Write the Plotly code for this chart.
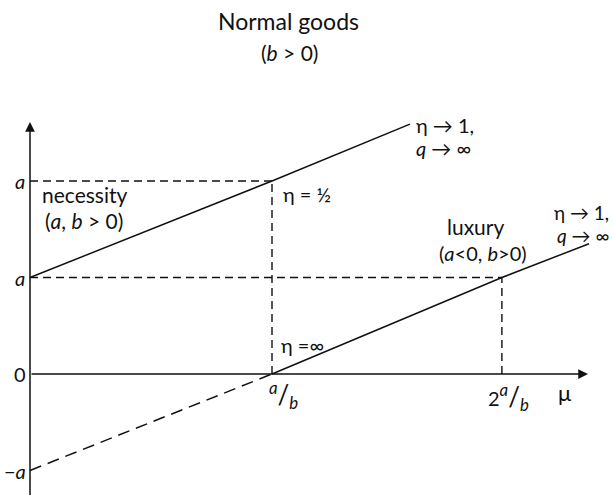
import plotly.graph_objects as go

# ---- data (units: x in a/b, y in a) ----
mu_necessity = [0, 1, 1.57]
q_necessity = [1, 2, 2.59]
mu_luxury_neg = [0, 1]
q_luxury_neg = [-1, 0]
mu_luxury = [1, 1.95, 2.31]
q_luxury = [0, 1, 1.35]
x_tick_vals = [1, 1.95]
y_tick_vals = [2, 1, 0, -1]
y_tick_labels = ["<i>a</i>", "<i>a</i>", "0", "−<i>a</i>"]

W, H = 613, 495
X0, KX = 30, 242.0
Y0, KY = 374, 96.5
def u(px):
    return (px - X0) / KX
def v(py):
    return (Y0 - py) / KY

FONT = "Lato"
BLACK = "#111"

fig = go.Figure()
solid = dict(color=BLACK, width=1.5)
dash_s = dict(color=BLACK, width=1.4, dash="8px,5px")
dash_l = dict(color=BLACK, width=1.5, dash="12px,7px")

def add(x, y, line):
    fig.add_trace(go.Scatter(x=x, y=y, mode="lines", line=line,
                             hoverinfo="skip", showlegend=False))

# guide lines
add([0, mu_necessity[1]], [q_necessity[1], q_necessity[1]], dash_s)
add([mu_necessity[1], mu_necessity[1]], [0, q_necessity[1]], dash_s)
add([0, mu_luxury[1]], [q_luxury[1], q_luxury[1]], dash_s)
add([mu_luxury[1], mu_luxury[1]], [0, q_luxury[1]], dash_s)
# curves
add(mu_necessity, q_necessity, solid)
add(mu_luxury_neg, q_luxury_neg, dash_l)
add(mu_luxury, q_luxury, solid)

ann = []
# axes with arrows
ann.append(dict(x=0, y=v(122), ax=0, ay=v(500), xref="x", yref="y", axref="x", ayref="y",
                text="", showarrow=True, arrowhead=2, arrowsize=1.3, arrowwidth=1.5, arrowcolor=BLACK))
ann.append(dict(x=u(588), y=0, ax=0, ay=0, xref="x", yref="y", axref="x", ayref="y",
                text="", showarrow=True, arrowhead=2, arrowsize=1.3, arrowwidth=1.5, arrowcolor=BLACK))

def txt(px, py, s, size=19, xanchor="center"):
    ann.append(dict(x=u(px), y=v(py), xref="x", yref="y", text=s, showarrow=False,
                    xanchor=xanchor, yanchor="middle",
                    font=dict(family=FONT, size=size, color=BLACK)))

# y tick labels
for val, lab, px in zip(y_tick_vals, y_tick_labels, [20, 20, 20, 15]):
    ann.append(dict(x=u(px), y=val, xref="x", yref="y", text=lab, showarrow=False,
                    xanchor="center", yanchor="middle",
                    font=dict(family=FONT, size=20, color=BLACK)))
# x tick labels
frac = "<sup><i>a</i></sup><span style='font-size:26px'>/</span><sub><i>b</i></sub>"
ann.append(dict(x=x_tick_vals[0], y=v(395), xref="x", yref="y", text=frac, showarrow=False,
                xanchor="left", xshift=-5, yanchor="middle", font=dict(family=FONT, size=24, color=BLACK)))
ann.append(dict(x=x_tick_vals[1], y=v(397), xref="x", yref="y",
                text="<span style='font-size:20px'>2</span>" + frac, showarrow=False,
                xanchor="left", xshift=-16, yanchor="middle", font=dict(family=FONT, size=24, color=BLACK)))
txt(565, 392, "μ", 22)

# titles and annotations
txt(288, 21, "Normal goods", 23)
txt(289, 52, "(<i>b</i> &gt; 0)", 21)
txt(84, 194, "necessity", 21)
txt(84, 220, "(<i>a</i>, <i>b</i> &gt; 0)", 21)
txt(281, 194, "η = ½", 20, "left")
txt(475, 226, "luxury", 21)
txt(483, 253, "(<i>a</i>&lt;0, <i>b</i>&gt;0)", 20)
txt(414, 125, "η → 1,", 20, "left")
txt(414, 148, "<i>q</i> → ∞", 20, "left")
txt(611, 212, "η → 1,", 19, "right")
txt(611, 235, "<i>q</i> → ∞", 19, "right")
txt(279, 345, "η =∞", 20, "left")

fig.update_layout(
    width=W, height=H, margin=dict(l=0, r=0, t=0, b=0),
    plot_bgcolor="white", paper_bgcolor="white",
    xaxis=dict(range=[u(0), u(W)], visible=False, fixedrange=True),
    yaxis=dict(range=[v(H), v(0)], visible=False, fixedrange=True),
    annotations=ann, showlegend=False,
)
fig.write_html("out.html", config={"displayModeBar": False},
               post_script="document.body.style.margin='0';document.body.style.overflow='hidden';")
